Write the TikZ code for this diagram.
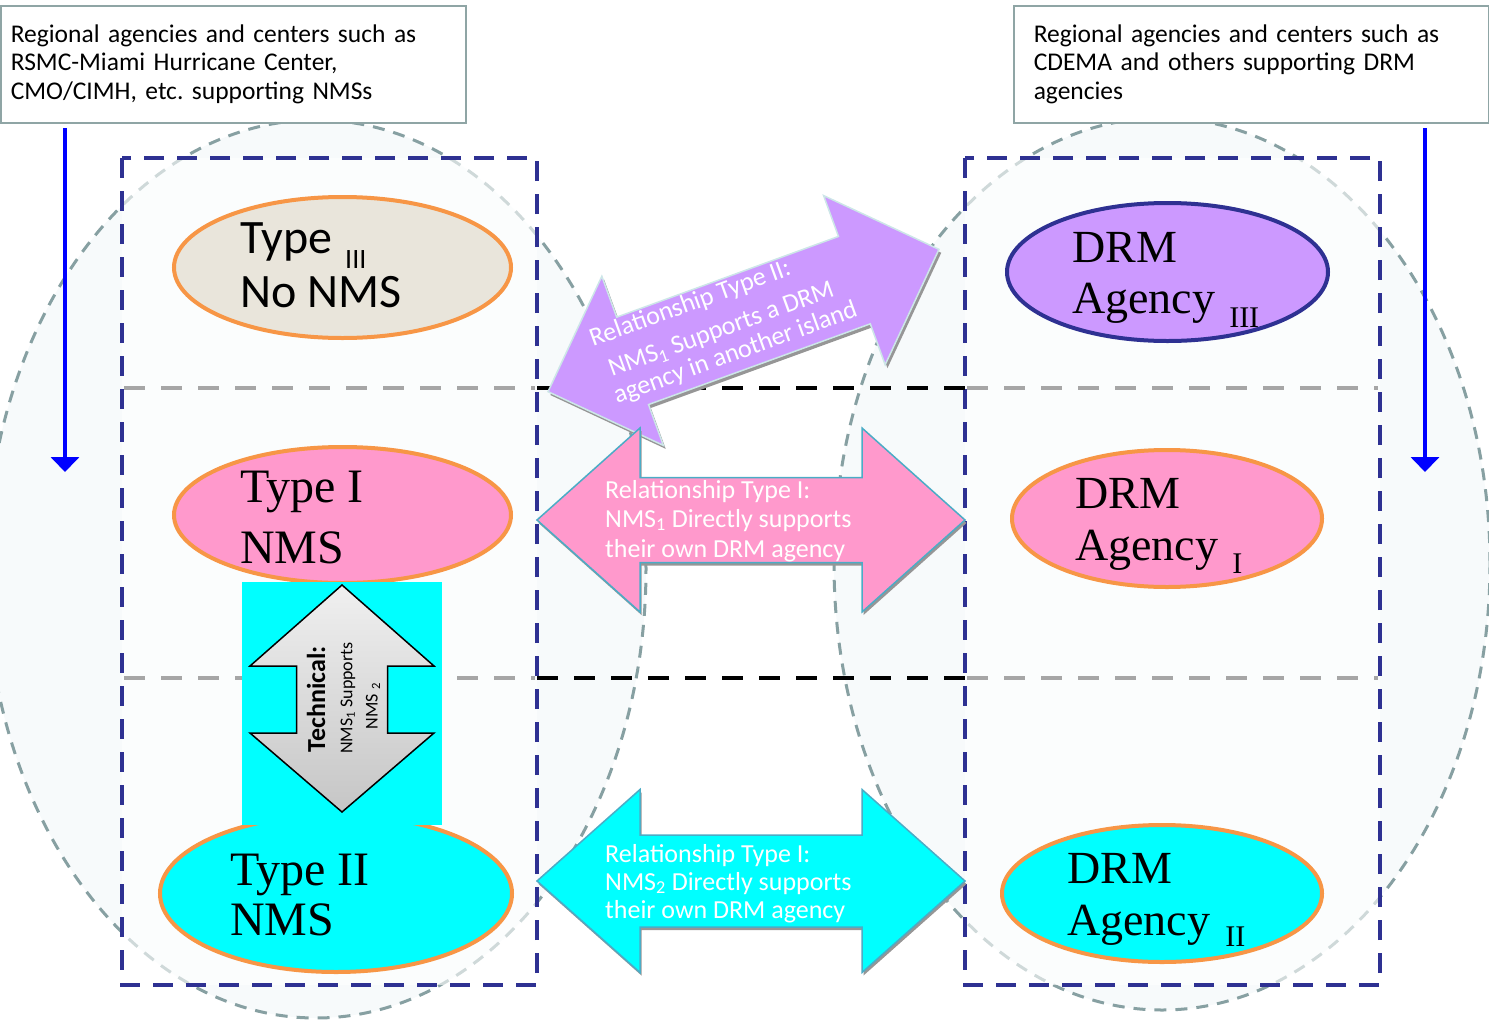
\documentclass[tikz,border=0pt]{standalone}
\usepackage{fontspec}
\setmainfont{Liberation Serif}
\newfontfamily\calibri{Carlito}
\usetikzlibrary{positioning,shapes.geometric,arrows.meta}
\frenchspacing

\definecolor{navyline}{RGB}{46,49,146}
\definecolor{orangeline}{RGB}{247,150,70}
\definecolor{pinkfill}{RGB}{255,153,204}
\definecolor{lilacfill}{RGB}{204,153,255}
\definecolor{beigefill}{RGB}{233,229,219}
\definecolor{cyanfill}{RGB}{0,255,255}
\definecolor{ovalline}{RGB}{135,160,162}
\definecolor{ovalfill}{RGB}{247,250,251}
\definecolor{boxline}{RGB}{143,165,165}
\definecolor{arrowline}{RGB}{75,172,198}
\definecolor{lilacline}{RGB}{205,230,232}
\definecolor{rowgrey}{RGB}{166,166,166}
\definecolor{shadowgrey}{RGB}{150,150,150}
\definecolor{flowblue}{RGB}{0,0,255}

% outline of a two headed block arrow: half length, head length, half shaft, half head
\newcommand{\twinarrow}[4]{(-#1,0) -- (-#1+#2,-#4) -- (-#1+#2,-#3) -- (#1-#2,-#3) -- (#1-#2,-#4) -- (#1,0) -- (#1-#2,#4) -- (#1-#2,#3) -- (-#1+#2,#3) -- (-#1+#2,#4) -- cycle}

\tikzset{
  oval/.style={draw=ovalline, line width=3pt, dash pattern=on 12pt off 9pt, fill=ovalfill},
  zone/.style={draw=navyline, line width=4pt, dash pattern=on 20pt off 13pt, fill=white, fill opacity=0.6},
  rowline/.style={draw=rowgrey, line width=4pt, dash pattern=on 21pt off 16pt},
  infobox/.style={draw=boxline, line width=1.5pt, fill=white, align=left, anchor=north west, inner ysep=0pt,
    font=\calibri\fontsize{25.5}{28.5}\selectfont},
  agent/.style={ellipse, draw=orangeline, line width=4pt, inner sep=0pt},
  sanslabel/.style={anchor=base west, inner sep=0pt, font=\calibri\fontsize{48}{48}\selectfont},
  seriflabel/.style={anchor=base west, inner sep=0pt, font=\fontsize{48}{48}\selectfont},
  drmlabel/.style={anchor=base west, inner sep=0pt, font=\fontsize{46}{46}\selectfont},
  relnote/.style={anchor=base west, inner sep=0pt, text=white, font=\calibri\fontsize{26}{26}\selectfont},
  technote/.style={rotate=90, inner sep=0pt, font=\calibri\fontsize{18}{18}\selectfont},
  flowarrow/.style={draw=flowblue, line width=4pt, -{Triangle[width=28pt,length=15pt]}},
  arrowshadow/.style={fill=shadowgrey},
}

\begin{document}
\begin{tikzpicture}[x=1pt,y=-1pt]
  \useasboundingbox (0,0) rectangle (1489,1023);

  % background groups
  \draw[oval] (316,569) ellipse [x radius=330pt, y radius=449pt];
  \draw[oval] (1162,564) ellipse [x radius=328pt, y radius=446pt];

  \node[infobox, minimum width=465pt, minimum height=117pt, text width=445pt, inner xsep=10pt] (nmsbox) at (0,5)
    {Regional agencies and centers such as\\RSMC-Miami Hurricane Center,\\CMO/CIMH, etc. supporting NMSs};
  \node[infobox, minimum width=475pt, minimum height=117pt, text width=435pt, inner xsep=20pt] (drmbox) at (1013,5)
    {Regional agencies and centers such as\\CDEMA and others supporting DRM\\agencies};

  \draw[zone] (122,158) rectangle (537,985);
  \draw[zone] (965,158) rectangle (1380,985);

  \foreach \y in {388,678} {
    \draw[rowline] (124,\y) -- (535,\y);
    \draw[rowline, draw=black] (537,\y) -- (965,\y);
    \draw[rowline] (967,\y) -- (1378,\y);
  }

  % NMS side
  \node[agent, fill=beigefill, minimum width=337pt, minimum height=141pt] (t3) at (342.5,267.5) {};
  \node[sanslabel] (t3top) at (240,253) {Type\hspace{13pt}\raisebox{-15pt}{\fontsize{28}{28}\selectfont III}};
  \node[sanslabel] (t3bot) at (240,307) {No NMS};

  \node[agent, fill=pinkfill, minimum width=337pt, minimum height=136pt] (t1) at (342.5,515) {};
  \node[seriflabel] (t1top) at (240,502) {Type I};
  \node[seriflabel] (t1bot) at (240,563) {NMS};

  \node[agent, fill=cyanfill, minimum width=352pt, minimum height=157pt] (t2) at (336,893.5) {};
  \node[seriflabel] (t2top) at (230,885) {Type II};
  \node[seriflabel] (t2bot) at (230,935) {NMS};

  % DRM side
  \node[agent, draw=navyline, fill=lilacfill, minimum width=321pt, minimum height=138pt] (d3) at (1167.5,272) {};
  \node[drmlabel] (d3top) at (1072,262) {DRM};
  \node[drmlabel] (d3bot) at (1072,313) {Agency\hspace{14pt}\raisebox{-14pt}{\fontsize{30}{30}\selectfont III}};

  \node[agent, fill=pinkfill, minimum width=310pt, minimum height=137pt] (d1) at (1167,518.5) {};
  \node[drmlabel] (d1top) at (1075,508) {DRM};
  \node[drmlabel] (d1bot) at (1075,560) {Agency\hspace{14pt}\raisebox{-13pt}{\fontsize{30}{30}\selectfont I}};

  \node[agent, fill=cyanfill, minimum width=320pt, minimum height=137pt] (d2) at (1162,893.5) {};
  \node[drmlabel] (d2top) at (1067,883) {DRM};
  \node[drmlabel] (d2bot) at (1067,935) {Agency\hspace{15pt}\raisebox{-11pt}{\fontsize{30}{30}\selectfont II}};

  % technical link
  \node[fill=cyanfill, minimum width=200pt, minimum height=243pt, inner sep=0pt] (techbg) at (342,703.5) {};
  \draw[line width=1.5pt, draw=black, top color=gray!12, bottom color=gray!45]
    (342,585) -- (434,666) -- (387.5,666) -- (387.5,733) -- (434,733) -- (342,812)
    -- (250,733) -- (296.5,733) -- (296.5,666) -- (250,666) -- cycle;
  \node[technote, font=\calibri\bfseries\fontsize{26}{26}\selectfont] (techhead) at (316,699) {Technical:};
  \node[technote] (techtext) at (348,698) {NMS\textsubscript{1} Supports};
  \node[technote] (techtextb) at (373,706) {NMS \textsubscript{2}};

  % relationships
  \begin{scope}[shift={(743.5,320.5)}, rotate=20]
    \fill[arrowshadow, shift={(1,4)}] \twinarrow{208}{90}{46.5}{90};
    \draw[fill=lilacfill, draw=lilacline, line width=1.5pt] \twinarrow{208}{90}{46.5}{90};
  \end{scope}
  \node[relnote, rotate=20] (rel2a) at (593,347) {Relationship Type II:};
  \node[relnote, rotate=20] (rel2b) at (612,377) {NMS\textsubscript{1} Supports a DRM};
  \node[relnote, rotate=20] (rel2c) at (617,404) {agency in another island};

  \begin{scope}[shift={(751,520)}]
    \fill[arrowshadow, shift={(1.5,3)}] \twinarrow{214}{103}{42.5}{92};
    \draw[fill=pinkfill, draw=arrowline, line width=1.5pt] \twinarrow{214}{103}{42.5}{92};
  \end{scope}
  \node[relnote] (rel1a) at (605,498) {Relationship Type I:};
  \node[relnote] (rel1b) at (605,527) {NMS\textsubscript{1} Directly supports};
  \node[relnote] (rel1c) at (605,557) {their own DRM agency};

  \begin{scope}[shift={(751,881)}]
    \fill[arrowshadow, shift={(1.5,3)}] \twinarrow{214}{103}{46}{91.5};
    \draw[fill=cyanfill, draw=arrowline, line width=1.5pt] \twinarrow{214}{103}{46}{91.5};
  \end{scope}
  \node[relnote] (rel3a) at (605,862) {Relationship Type I:};
  \node[relnote] (rel3b) at (605,890) {NMS\textsubscript{2} Directly supports};
  \node[relnote] (rel3c) at (605,918) {their own DRM agency};

  % regional support flows
  \coordinate (nmsflow) at (65,128);
  \coordinate (nmsflowend) at (65,472);
  \coordinate (drmflow) at (1425,128);
  \coordinate (drmflowend) at (1425,472);
  \draw[flowarrow] (nmsflow) -- (nmsflowend);
  \draw[flowarrow] (drmflow) -- (drmflowend);
\end{tikzpicture}
\end{document}
